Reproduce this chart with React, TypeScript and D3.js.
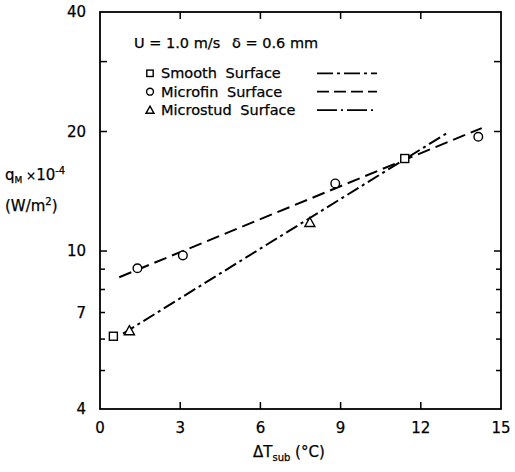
import React from 'react';
import * as d3 from 'd3';

const xTickValues = [0, 3, 6, 9, 12, 15];
const xInnerTicks = [3, 6, 9, 12];
const yTickLabels = [4, 7, 10, 20, 40];
const yTickMarks = [5, 6, 7, 8, 9, 10, 20, 30];

const smoothPts: [number, number][] = [[0.5, 6.1], [11.4, 17.1]];
const microfinPts: [number, number][] = [[1.4, 9.05], [3.1, 9.75], [8.8, 14.8], [14.15, 19.4]];
const microstudPts: [number, number][] = [[1.1, 6.3], [7.85, 11.8]];

const smoothLine: [number, number][] = [[0.86, 6.19], [12.97, 19.8]];
const microfinLine: [number, number][] = [[0.72, 8.59], [14.28, 20.4]];

const legendItems = [
  { label: 'Smooth Surface', marker: 'square', dash: '16,4,3,4' },
  { label: 'Microfin Surface', marker: 'circle', dash: '12,5' },
  { label: 'Microstud Surface', marker: 'triangle', dash: '20,4,2,4' },
];

const FONT = 'DejaVu Sans, sans-serif';

function Marker({ type, cx, cy, s = 1 }: { type: string; cx: number; cy: number; s?: number }) {
  const common = { fill: 'white', stroke: 'black', strokeWidth: 1.4 };
  if (type === 'square') return <rect x={cx - 4 * s} y={cy - 4 * s} width={8 * s} height={8 * s} {...common} />;
  if (type === 'circle') return <circle cx={cx} cy={cy} r={4.3 * s} {...common} />;
  return <path d={`M${cx},${cy - 5 * s} L${cx + 5 * s},${cy + 4 * s} L${cx - 5 * s},${cy + 4 * s} Z`} {...common} />;
}

export default function App() {
  const W = 515, H = 472;
  const x = d3.scaleLinear().domain([0, 15]).range([100, 501]);
  const y = d3.scaleLog().domain([4, 40]).range([409, 12]);
  const line = d3.line<[number, number]>().x(d => x(d[0])).y(d => y(d[1]));
  const [x0, x1] = x.range();
  const [y0, y1] = y.range();
  const txt = { stroke: 'black', strokeWidth: 0.25 };

  return (
    <svg width={W} height={H} style={{ position: 'absolute', left: 0, top: 0, background: 'white' }} fontFamily={FONT}>
      <rect x={0} y={0} width={W} height={H} fill="white" />
      <rect x={x0} y={y1} width={x1 - x0} height={y0 - y1} fill="none" stroke="black" strokeWidth={1.8} />
      {xInnerTicks.map(t => (
        <g key={'xt' + t}>
          <line x1={x(t)} x2={x(t)} y1={y0} y2={y0 - 7} stroke="black" strokeWidth={1.5} />
          <line x1={x(t)} x2={x(t)} y1={y1} y2={y1 + 7} stroke="black" strokeWidth={1.5} />
        </g>
      ))}
      {xTickValues.map(t => (
        <text key={'xl' + t} x={x(t)} y={433} textAnchor="middle" fontSize={15} {...txt}>{t}</text>
      ))}
      {yTickMarks.map(t => {
        const len = t === 10 || t === 20 || t === 30 ? 7 : 5;
        return (
          <g key={'yt' + t}>
            <line x1={x0} x2={x0 + len} y1={y(t)} y2={y(t)} stroke="black" strokeWidth={1.5} />
            <line x1={x1} x2={x1 - len} y1={y(t)} y2={y(t)} stroke="black" strokeWidth={1.5} />
          </g>
        );
      })}
      {yTickLabels.map(t => (
        <text key={'yl' + t} x={86} y={y(t)} dy="0.36em" textAnchor="end" fontSize={15} {...txt}>{t}</text>
      ))}
      <text x={5} y={180} fontSize={15} {...txt}>
        q<tspan fontSize={9} dy={3}>M</tspan>
        <tspan dy={-3} fontSize={12}> ×</tspan>10<tspan fontSize={10} dy={-6}>-4</tspan>
      </text>
      <text x={5} y={211} fontSize={15} {...txt}>
        (W/m<tspan fontSize={10} dy={-6}>2</tspan><tspan dy={6}>)</tspan>
      </text>
      <text x={253} y={457} fontSize={15} {...txt}>
        ΔT<tspan fontSize={10} dy={4}>sub</tspan><tspan dy={-4}> (°C)</tspan>
      </text>
      <path d={line(smoothLine) || ''} fill="none" stroke="black" strokeWidth={2} strokeDasharray="13,4,3,4" />
      <path d={line(microfinLine) || ''} fill="none" stroke="black" strokeWidth={2} strokeDasharray="13,6" />
      {smoothPts.map((p, i) => <Marker key={'s' + i} type="square" cx={x(p[0])} cy={y(p[1])} />)}
      {microfinPts.map((p, i) => <Marker key={'c' + i} type="circle" cx={x(p[0])} cy={y(p[1])} />)}
      {microstudPts.map((p, i) => <Marker key={'t' + i} type="triangle" cx={x(p[0])} cy={y(p[1])} />)}
      <text x={134} y={48} fontSize={14.5} {...txt}>U = 1.0 m/s</text>
      <text x={232} y={48} fontSize={14.5} {...txt}>δ = 0.6 mm</text>
      {legendItems.map((it, i) => {
        const cy = 73.3 + i * 18.4;
        return (
          <g key={'lg' + i}>
            <Marker type={it.marker} cx={150} cy={cy} s={0.8} />
            <text x={161} y={cy + 5} fontSize={14.5} wordSpacing={4} {...txt}>{it.label}</text>
            <line x1={317} x2={377} y1={cy} y2={cy} stroke="black" strokeWidth={1.8} strokeDasharray={it.dash} />
          </g>
        );
      })}
    </svg>
  );
}
